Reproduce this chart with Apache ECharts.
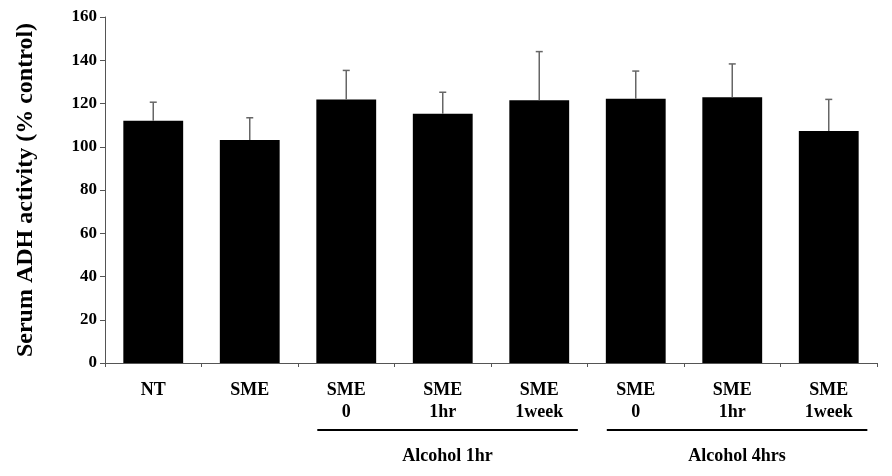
<!DOCTYPE html>
<html>
<head>
<meta charset="utf-8">
<script src="https://cdn.jsdelivr.net/npm/echarts@6/dist/echarts.min.js"></script>
<style>html,body{margin:0;padding:0;background:#fff;}#c{width:892px;height:476px;}</style>
</head>
<body>
<div id="c"></div>
<script>
const categories = ['NT', 'SME', 'SME\n0', 'SME\n1hr', 'SME\n1week', 'SME\n0', 'SME\n1hr', 'SME\n1week'];
const means = [112.0, 103.1, 121.8, 115.3, 121.5, 122.2, 122.9, 107.3];
const errorTops = [120.6, 113.4, 135.3, 125.2, 144.0, 135.0, 138.3, 121.9];
const groupNames = ['Alcohol 1hr', 'Alcohol 4hrs'];
const groupStart = [2, 5];
const groupEnd = [4, 7];
const yTicks = [0, 20, 40, 60, 80, 100, 120, 140, 160];

const FONT = '"Liberation Serif","Times New Roman",serif';
const chart = echarts.init(document.getElementById('c'), null, {renderer: 'canvas'});

const errData = means.map((m, i) => [i, m, errorTops[i]]);
const groupData = groupNames.map((g, i) => [groupStart[i], groupEnd[i], g]);

chart.setOption({
  animation: false,
  backgroundColor: '#fff',
  grid: {left: 105, right: 15, top: 17, bottom: 113},
  xAxis: {
    type: 'category',
    data: categories,
    axisLine: {lineStyle: {color: '#555', width: 1}},
    axisTick: {show: true, length: 4, lineStyle: {color: '#555'}},
    axisLabel: {
      color: '#000', fontFamily: FONT, fontWeight: 'bold', fontSize: 18,
      lineHeight: 22, margin: 16, interval: 0
    }
  },
  yAxis: {
    type: 'value',
    min: yTicks[0], max: yTicks[yTicks.length - 1], interval: 20,
    name: 'Serum ADH activity (% control)',
    nameLocation: 'middle',
    nameGap: 67,
    nameRotate: 90,
    nameTextStyle: {color: '#000', fontFamily: FONT, fontWeight: 'bold', fontSize: 24},
    axisLine: {show: true, lineStyle: {color: '#555', width: 1}},
    axisTick: {show: true, length: 5, lineStyle: {color: '#555'}},
    splitLine: {show: false},
    axisLabel: {color: '#000', fontFamily: FONT, fontWeight: 'bold', fontSize: 17, margin: 8}
  },
  series: [
    {
      type: 'bar',
      data: means,
      barWidth: '62%',
      itemStyle: {color: '#000'},
      z: 2
    },
    {
      type: 'custom',
      data: errData,
      z: 3,
      renderItem: function (params, api) {
        const i = api.value(0);
        const base = api.coord([i, api.value(1)]);
        const top = api.coord([i, api.value(2)]);
        const style = {stroke: '#666', lineWidth: 1.5};
        return {
          type: 'group',
          children: [
            {type: 'line', shape: {x1: base[0], y1: base[1], x2: top[0], y2: top[1]}, style: style},
            {type: 'line', shape: {x1: top[0] - 3.5, y1: top[1], x2: top[0] + 3.5, y2: top[1]}, style: style}
          ]
        };
      }
    },
    {
      type: 'custom',
      data: groupData,
      clip: false,
      silent: true,
      renderItem: function (params, api) {
        const s = api.coord([api.value(0), 0]);
        const e = api.coord([api.value(1), 0]);
        const w = api.size([1, 0])[0];
        const x1 = s[0] - 0.3 * w;
        const x2 = e[0] + 0.4 * w;
        const yLine = s[1] + 67;
        return {
          type: 'group',
          children: [
            {type: 'line', shape: {x1: x1, y1: yLine, x2: x2, y2: yLine}, style: {stroke: '#000', lineWidth: 2}},
            {type: 'text', style: {
              x: (x1 + x2) / 2, y: yLine + 26, text: groupData[params.dataIndex][2],
              fill: '#000', font: 'bold 18px ' + FONT, textAlign: 'center', textVerticalAlign: 'middle'
            }}
          ]
        };
      }
    }
  ]
});
</script>
</body>
</html>
